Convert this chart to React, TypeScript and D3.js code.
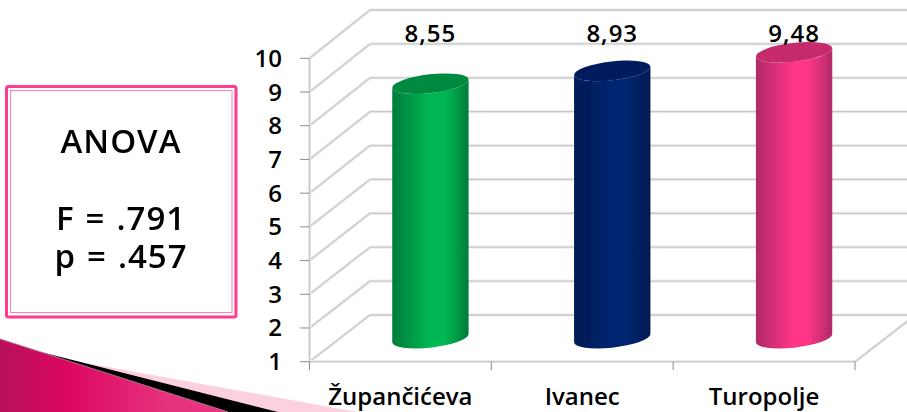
import * as d3 from "d3";

const width = 907;
const height = 412;

const categories = ["Županči\u0107eva", "Ivanec", "Turopolje"];
const values = [8.55, 8.93, 9.48];
const valueLabels = ["8,55", "8,93", "9,48"];
const yTicks = [1, 2, 3, 4, 5, 6, 7, 8, 9, 10];
const barColors = [
  { id: "green", edge: "#007c39", mid: "#00b853", top: "#008a40" },
  { id: "blue", edge: "#001a52", mid: "#002672", top: "#001d5e" },
  { id: "pink", edge: "#b02a68", mid: "#ff3587", top: "#c42c6c" },
];
const statLines = [
  { text: "ANOVA", y: 153 },
  { text: "F = .791", y: 230 },
  { text: "p = .457", y: 268 },
];

const fontFamily = "'Open Sans', sans-serif";

// front edge of the 3D box and its back wall
const yFront = d3.scaleLinear().domain([1, 10]).range([361.7, 58.3]);
const yBack = d3.scaleLinear().domain([1, 10]).range([315, 10]);
const xBand = d3.scaleBand().domain(categories).range([309.5, 855]);
const depthX = 60.5;
const barShift = 30;
const barLift = 23.5;

// cylinder end caps are tilted ellipses
const rx = 38.4;
const ry = 9.4;
const tilt = (-6.5 * Math.PI) / 180;
const halfX = Math.sqrt(rx * rx * Math.cos(tilt) ** 2 + ry * ry * Math.sin(tilt) ** 2);
const edgeDy = ((rx * rx - ry * ry) * Math.sin(tilt) * Math.cos(tilt)) / halfX;
const tiltDeg = (tilt * 180) / Math.PI;

function cylinderPath(cx: number, top: number, bottom: number) {
  const l = cx - halfX;
  const r = cx + halfX;
  return `M${l},${top - edgeDy}L${l},${bottom - edgeDy}A${rx},${ry} ${tiltDeg} 0 0 ${r},${bottom + edgeDy}L${r},${top + edgeDy}A${rx},${ry} ${tiltDeg} 0 1 ${l},${top - edgeDy}Z`;
}

function GridLine(props: { x1: number; y1: number; x2: number; y2: number }) {
  return (
    <g>
      <line {...props} stroke="#ececec" strokeWidth={3.2} />
      <line {...props} stroke="#c9c9c9" strokeWidth={1.3} />
    </g>
  );
}

export default function App() {
  const axisX = xBand.range()[0];
  const endX = xBand.range()[1];
  const boundaries = [axisX, ...categories.map((c) => xBand(c)! + xBand.bandwidth())];

  return (
    <svg
      width={width}
      height={height}
      style={{ position: "absolute", left: 0, top: 0, display: "block", background: "#fff" }}
    >
      <defs>
        {barColors.map((c) => (
          <linearGradient key={c.id} id={c.id} x1="0" x2="1" y1="0" y2="0">
            <stop offset="0" stopColor={c.edge} />
            <stop offset="0.5" stopColor={c.mid} />
            <stop offset="0.68" stopColor={c.mid} />
            <stop offset="1" stopColor={c.edge} />
          </linearGradient>
        ))}
        <linearGradient id="corner" x1="0" x2="1" y1="0" y2="0">
          <stop offset="0" stopColor="#b8105a" />
          <stop offset="0.3" stopColor="#dc0762" />
          <stop offset="0.75" stopColor="#e8347e" />
          <stop offset="1" stopColor="#e8347e" />
        </linearGradient>
        <filter id="soft" x="-10%" y="-10%" width="120%" height="120%">
          <feGaussianBlur stdDeviation="0.6" />
        </filter>
        <filter id="softText" x="-5%" y="-5%" width="110%" height="110%">
          <feGaussianBlur stdDeviation="0.3" />
        </filter>
      </defs>

      {/* corner decoration */}
      <path d="M75,361L357,412L75,412Z" fill="#fdd0e0" />
      <path d="M40,351.8L278,412L40,412Z" fill="#000" />
      <path d="M0,339L228,412L0,412Z" fill="url(#corner)" />
      <line x1={0} y1={339} x2={228} y2={412} stroke="#b5708f" strokeWidth={1} />

      {/* stat box */}
      <rect x={6.5} y={86.5} width={229.5} height={230.5} rx={2} fill="#fff" stroke="#ff3b8c" strokeWidth={3} />
      <rect x={10.5} y={90.5} width={221.5} height={222} fill="none" stroke="#ff7fb2" strokeWidth={1} />
      <g filter="url(#softText)">
        {statLines.map((d) => (
          <text
            key={d.text}
            x={121}
            y={d.y}
            textAnchor="middle"
            fontFamily={fontFamily}
            fontSize={33}
            fontWeight={560}
            wordSpacing={1.5}
            letterSpacing={1}
            fill="#000"
          >
            {d.text}
          </text>
        ))}
      </g>

      {/* back wall, side wall */}
      {yTicks.map((t) => (
        <g key={t}>
          <GridLine x1={axisX} y1={yFront(t)} x2={axisX + depthX} y2={yBack(t)} />
          <GridLine x1={axisX + depthX} y1={yBack(t)} x2={width} y2={yBack(t)} />
        </g>
      ))}
      <GridLine x1={endX} y1={yFront(1)} x2={endX + depthX} y2={yBack(1)} />
      <GridLine x1={axisX} y1={yFront(10)} x2={axisX} y2={yFront(1)} />
      <GridLine x1={axisX} y1={yFront(1)} x2={endX} y2={yFront(1)} />

      {/* ticks */}
      {yTicks.map((t) => (
        <g key={t}>
          <line x1={300} x2={axisX} y1={yFront(t)} y2={yFront(t)} stroke="#8c8c8c" strokeWidth={1} />
          <text x={282} y={yFront(t) + 8.5} textAnchor="end" fontFamily={fontFamily} fontSize={24} fontWeight={540} fill="#000">
            {t}
          </text>
        </g>
      ))}
      {boundaries.map((x) => (
        <line key={x} x1={x} x2={x} y1={yFront(1)} y2={370} stroke="#8c8c8c" strokeWidth={1} />
      ))}

      {/* cylinders */}
      {categories.map((c, i) => {
        const cx = xBand(c)! + xBand.bandwidth() / 2 + barShift;
        const top = yFront(values[i]) - barLift;
        const bottom = yFront(1) - barLift;
        const col = barColors[i];
        return (
          <g key={c} filter="url(#soft)">
            <path d={cylinderPath(cx, top, bottom)} fill={`url(#${col.id})`} />
            <ellipse cx={cx} cy={top} rx={rx} ry={ry} fill={col.top} transform={`rotate(${tiltDeg} ${cx} ${top})`} />
          </g>
        );
      })}

      {/* value and category labels */}
      {categories.map((c, i) => {
        const cx = xBand(c)! + xBand.bandwidth() / 2;
        return (
          <g key={c}>
            <text
              x={cx + barShift}
              y={41.7}
              textAnchor="middle"
              fontFamily={fontFamily}
              fontSize={24}
              fontWeight={540}
              letterSpacing={1}
              fill="#000"
            >
              {valueLabels[i]}
            </text>
            <text x={cx} y={405} textAnchor="middle" fontFamily={fontFamily} fontSize={24} fontWeight={600} fill="#000">
              {c}
            </text>
          </g>
        );
      })}
    </svg>
  );
}
